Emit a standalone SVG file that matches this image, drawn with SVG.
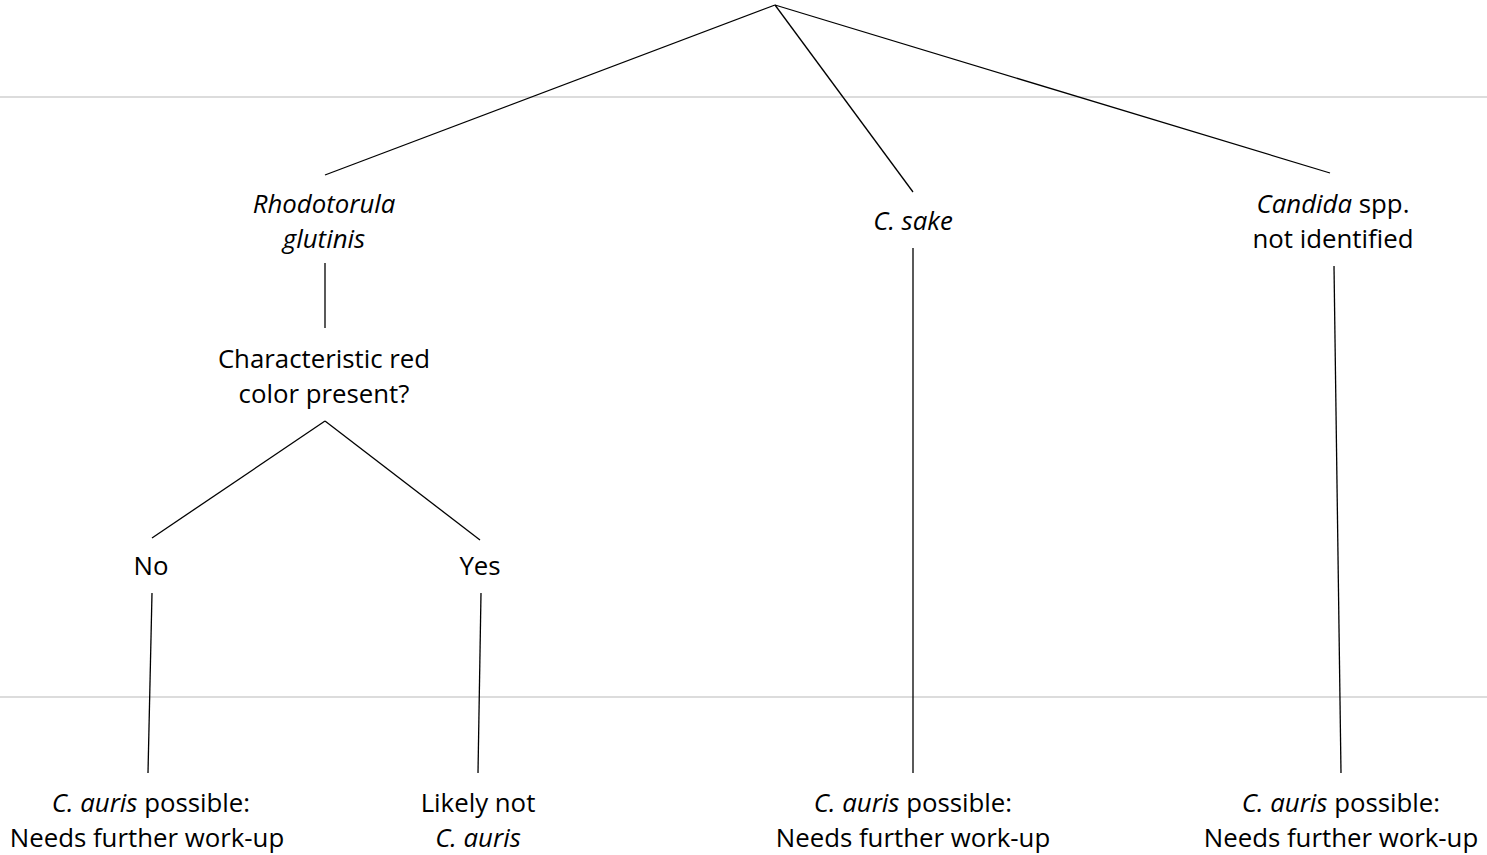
<svg xmlns="http://www.w3.org/2000/svg" width="1487" height="855" viewBox="0 0 1487 855">
<style>
text{font-family:"Open Sans",Lato,"Liberation Sans",sans-serif;font-size:25.8px;fill:#000;text-anchor:middle}
.i{font-style:italic}
.c{stroke:#000;stroke-width:1.3;fill:none}
.g{stroke:#dcdcdc;stroke-width:2}
</style>
<rect width="1487" height="855" fill="#fff"/>
<g id="guides">
<line class="g" x1="0" y1="97" x2="1487" y2="97"/>
<line class="g" x1="0" y1="697" x2="1487" y2="697"/>
</g>
<g id="connectors">
<line class="c" x1="775" y1="5" x2="325" y2="175"/>
<line class="c" x1="775" y1="5" x2="913" y2="192"/>
<line class="c" x1="775" y1="5" x2="1330" y2="173"/>
<line class="c" x1="325" y1="263" x2="325" y2="328"/>
<line class="c" x1="325" y1="421" x2="152" y2="538"/>
<line class="c" x1="325" y1="421" x2="480" y2="540"/>
<line class="c" x1="152" y1="593" x2="148" y2="773"/>
<line class="c" x1="481" y1="593" x2="478" y2="773"/>
<line class="c" x1="913" y1="248" x2="913" y2="773"/>
<line class="c" x1="1334" y1="266" x2="1341" y2="773"/>
</g>
<g id="rhodotorula"><text x="324" y="213" class="i">Rhodotorula</text><text x="324" y="248" class="i">glutinis</text></g>
<g id="csake"><text x="913" y="230" class="i">C. sake</text></g>
<g id="candida"><text x="1333" y="213"><tspan class="i">Candida</tspan> spp.</text><text x="1333" y="248">not identified</text></g>
<g id="redcolor"><text x="324" y="368">Characteristic red</text><text x="324" y="403">color present?</text></g>
<g id="no"><text x="151" y="575">No</text></g>
<g id="yes"><text x="480" y="575">Yes</text></g>
<g id="out1"><text x="151" y="812"><tspan class="i">C. auris</tspan> possible:</text><text x="147" y="847">Needs further work-up</text></g>
<g id="out2"><text x="478" y="812">Likely not</text><text x="478" y="847" class="i">C. auris</text></g>
<g id="out3"><text x="913" y="812"><tspan class="i">C. auris</tspan> possible:</text><text x="913" y="847">Needs further work-up</text></g>
<g id="out4"><text x="1341" y="812"><tspan class="i">C. auris</tspan> possible:</text><text x="1341" y="847">Needs further work-up</text></g>
</svg>
